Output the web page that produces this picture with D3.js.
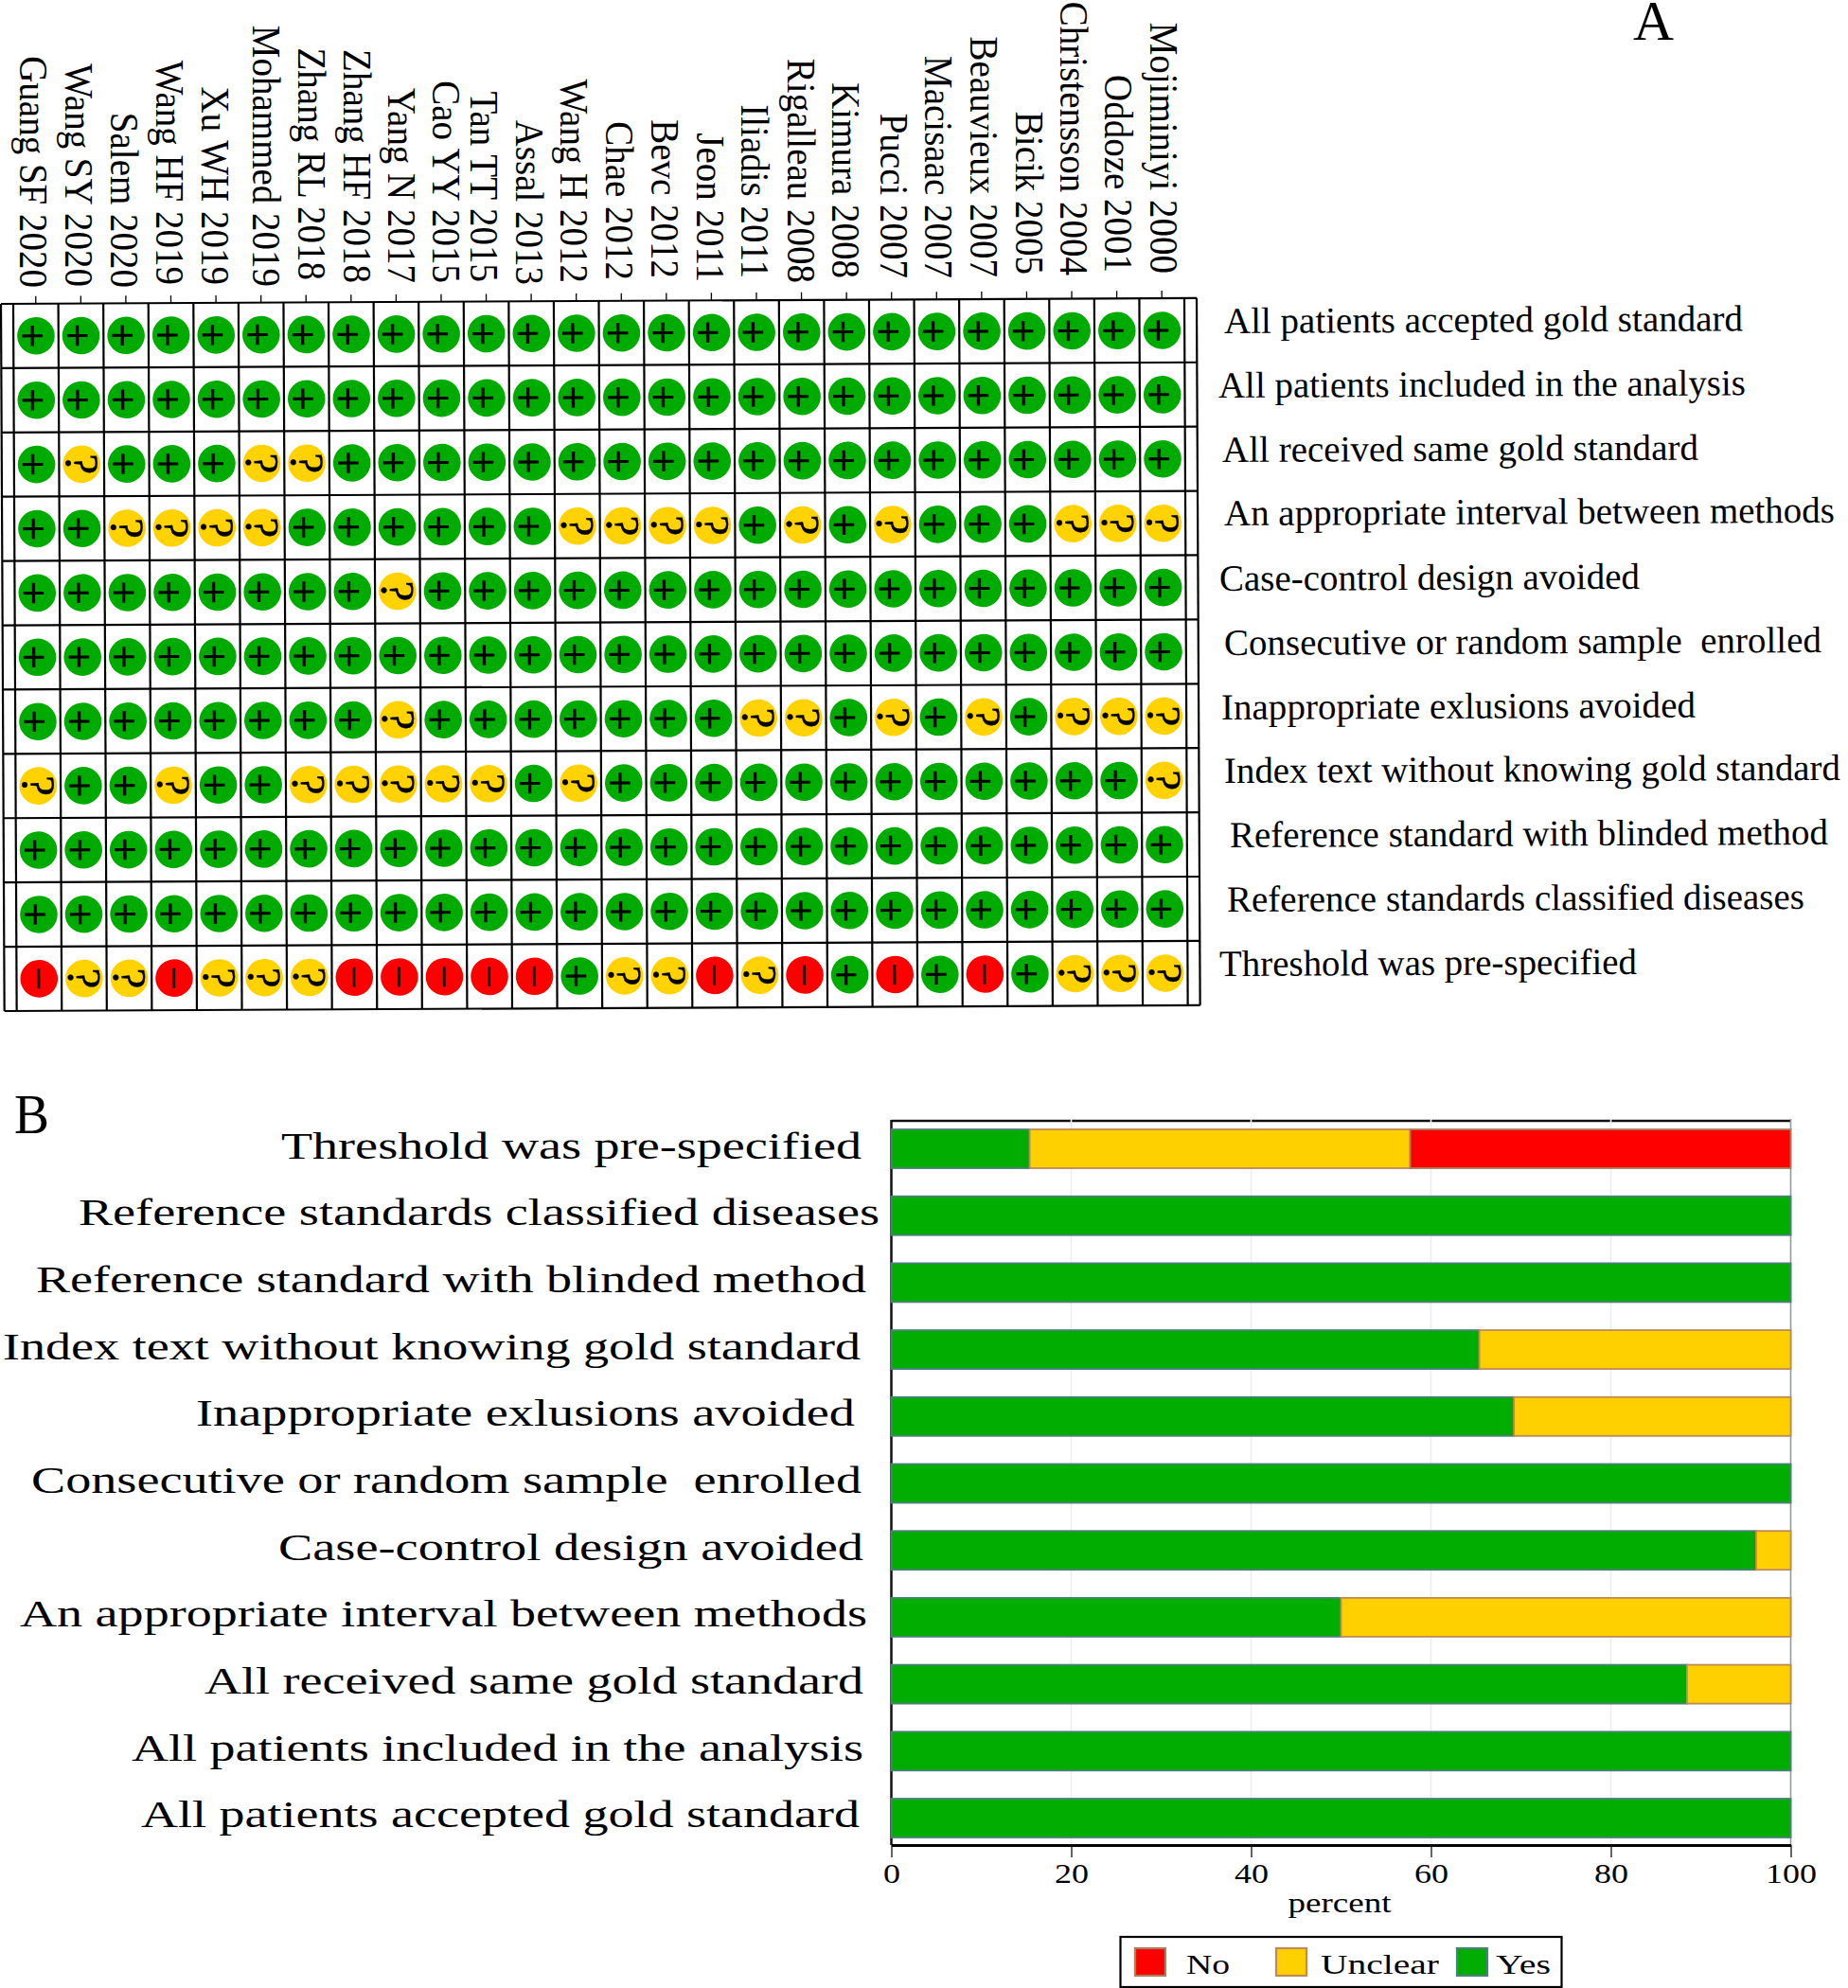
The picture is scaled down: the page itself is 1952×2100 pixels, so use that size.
<!DOCTYPE html>
<html><head><meta charset="utf-8">
<script src="https://cdn.jsdelivr.net/npm/d3@7"></script>
<style>html,body{margin:0;background:#fff}svg{display:block}text{font-family:"Liberation Serif",serif;fill:#000}</style>
</head><body><svg id="c" width="1952" height="2100"></svg>
<script>
const studies = ["Guang SF 2020","Wang SY 2020","Salem 2020","Wang HF 2019","Xu WH 2019","Mohammed 2019","Zhang RL 2018","Zhang HF 2018","Yang N 2017","Cao YY 2015","Tan TT 2015","Assal 2013","Wang H 2012","Chae 2012","Bevc 2012","Jeon 2011","Iliadis 2011","Rigalleau 2008","Kimura 2008","Pucci 2007","Macisaac 2007","Beauvieux 2007","Bicik 2005","Christensson 2004","Oddoze 2001","Mojiminiyi 2000"];
const criteriaA = ["All patients accepted gold standard","All patients included in the analysis","All received same gold standard","An appropriate interval between methods","Case-control design avoided","Consecutive or random sample  enrolled","Inappropriate exlusions avoided","Index text without knowing gold standard","Reference standard with blinded method","Reference standards classified diseases","Threshold was pre-specified"];
const judgments = [
"++++++++++++++++++++++++++",
"++++++++++++++++++++++++++",
"+?+++??+++++++++++++++++++",
"++????++++++????+?+?+++???",
"++++++++?+++++++++++++++++",
"++++++++++++++++++++++++++",
"++++++++?+++++++??+?+?+???",
"?++?++?????+?++++++++++++?",
"++++++++++++++++++++++++++",
"++++++++++++++++++++++++++",
"-??-???-----+??-?-+-+-+???"];
const criteriaB = criteriaA.slice().reverse();
const yesValues     = [15.38,100,100,65.38,69.23,100,96.15,50,88.46,100,100];
const unclearValues = [42.31,0,0,34.62,30.77,0,3.85,50,11.54,0,0];
const noValues      = [42.31,0,0,0,0,0,0,0,0,0,0];
const percentTicks  = [0,20,40,60,80,100];
const legendItems   = ["No","Unclear","Yes"];

// layout tables, separate from the values
const colLabelEnd = [303,302,303,300,300,302,295,298,298,298,297,300,298,295,293,297,293,298,293,293,293,292,289,290,287,288];
const colLabelOff = [16.5,16,16,16,15,8.5,8.5,8,8.7,8.7,16.5,16.6,17,16,15.6,15.5,16,15,15,12,12.6,12,11.8,11.8,12.6,12.5];
const rightLabels = [[1293,1841,352],[1287,1844,420],[1291,1794,488],[1293,1938,555],[1288,1732,624],[1293,1924,692],[1290,1791,760],[1293,1944,827],[1299,1931,895],[1296,1906,963],[1288,1729,1031]];
const leftLabels = [[297,910],[83,929],[38,915],[3,909],[207,903],[33,910],[294,912],[21,916],[216,912],[139,912],[149,908]];

const colors = {"+":"#00AB00","?":"#FFD200","-":"#FF0000"};
const barColors = {Yes:"#00AD00",Unclear:"#FFD000",No:"#FF0000"};
const barEdges  = {Yes:"#4d7f7c",Unclear:"#bf8a55",No:"#a8805c"};
const svg = d3.select("#c");
svg.append("rect").attr("width",1952).attr("height",2100).attr("fill","#fff");

/* Panel A */
const tilt = -0.28;
const grid = svg.append("g").attr("transform",`rotate(${tilt} 1 320)`);
const xA = d3.scaleBand().domain(d3.range(studies.length)).range([14,1251]);
const yA = d3.scaleBand().domain(d3.range(criteriaA.length)).range([321,1068]);
const gl = grid.append("g").attr("stroke","#000").attr("stroke-width",2.2).attr("fill","none");
gl.selectAll("line.h").data(d3.range(criteriaA.length+1)).join("line").attr("class","h")
  .attr("x1",1).attr("x2",1264).attr("y1",i=>321+i*yA.step()).attr("y2",i=>321+i*yA.step());
const vx = [1,...d3.range(studies.length+1).map(i=>14+i*xA.step()),1264];
gl.selectAll("line.v").data(vx).join("line").attr("class","v").attr("x1",d=>d).attr("x2",d=>d).attr("y1",321).attr("y2",1068);
grid.append("g").attr("stroke","#000").attr("stroke-width",1.3).selectAll("line").data(studies).join("line")
  .attr("x1",(d,i)=>xA(i)+xA.bandwidth()/2).attr("x2",(d,i)=>xA(i)+xA.bandwidth()/2).attr("y1",313).attr("y2",321);

const cells = judgments.flatMap((r,ri)=>r.split("").map((v,ci)=>({v,ri,ci})));
const cell = grid.selectAll("g.cell").data(cells).join("g").attr("class","cell")
  .attr("transform",d=>`translate(${xA(d.ci)+xA.bandwidth()/2},${yA(d.ri)+yA.bandwidth()/2})`);
cell.append("circle").attr("r",19.8).attr("fill",d=>colors[d.v]);
const glyph = cell.append("text").attr("transform","rotate(90)").attr("text-anchor","middle");
glyph.filter(d=>d.v==="+").text("+").style("font-family","Liberation Sans").attr("font-size",44).attr("x",0).attr("y",3.5+0.34*44);
glyph.filter(d=>d.v==="?").text("?").attr("font-size",50).attr("x",0).attr("y",0.33*50).style("stroke","#000").style("stroke-width",0.3);
glyph.filter(d=>d.v==="-").text("\u2013").style("font-family","Liberation Sans").attr("font-size",38).attr("x",0).attr("y",0.27*38);

svg.append("g").selectAll("text").data(studies).join("text").text(d=>d)
  .attr("font-size",39).attr("text-anchor","end")
  .attr("transform",(d,i)=>`translate(${xA(i)+xA.bandwidth()/2-colLabelOff[i]},${colLabelEnd[i]+1}) rotate(90) scale(1,1.1)`);

svg.append("g").selectAll("text").data(criteriaA).join("text").text(d=>d)
  .attr("font-size",39).attr("lengthAdjust","spacingAndGlyphs").attr("xml:space","preserve")
  .attr("textLength",(d,i)=>rightLabels[i][1]-rightLabels[i][0])
  .attr("transform",(d,i)=>`translate(${rightLabels[i][0]},${rightLabels[i][2]}) rotate(${tilt})`);

svg.append("text").text("A").attr("x",1725).attr("y",42).attr("font-size",60).attr("textLength",43).attr("lengthAdjust","spacingAndGlyphs");
svg.append("text").text("B").attr("x",15).attr("y",1197).attr("font-size",60).attr("textLength",37).attr("lengthAdjust","spacingAndGlyphs");

/* Panel B */
const xB = d3.scaleLinear().domain([0,100]).range([941.5,1891.5]);
const yB = d3.scaleBand().domain(criteriaB).range([1193,1941]).paddingInner(0.42).paddingOuter(0);
const plotTop = 1184, plotBottom = 1949;
const rows = criteriaB.map((c,i)=>({c,Yes:yesValues[i],Unclear:unclearValues[i],No:noValues[i]}));
const stack = d3.stack().keys(["Yes","Unclear","No"])(rows);

svg.append("line").attr("x1",xB(0)).attr("x2",xB(100)).attr("y1",plotTop).attr("y2",plotTop).attr("stroke","#111").attr("stroke-width",2.5);
svg.append("g").selectAll("line").data(percentTicks.slice(1)).join("line")
  .attr("x1",d=>xB(d)).attr("x2",d=>xB(d)).attr("y1",plotTop-2).attr("y2",plotBottom)
  .attr("stroke",d=>d===100?"#8e9ca2":"#e7eff0").attr("stroke-width",1.6);
svg.append("line").attr("x1",xB(0)).attr("x2",xB(0)).attr("y1",plotTop-1).attr("y2",plotBottom).attr("stroke","#111").attr("stroke-width",2.5);

svg.append("g").selectAll("g").data(stack).join("g").each(function(s){
  d3.select(this).selectAll("rect").data(s.filter(d=>d[1]>d[0])).join("rect")
    .attr("x",d=>xB(d[0])).attr("width",d=>xB(d[1])-xB(d[0]))
    .attr("y",d=>yB(d.data.c)).attr("height",yB.bandwidth())
    .attr("fill",barColors[s.key]).attr("stroke",barEdges[s.key]).attr("stroke-width",1.8);
});

const axis = svg.append("g").attr("transform",`translate(0,${plotBottom})`)
  .call(d3.axisBottom(xB).tickValues(percentTicks).tickSize(13).tickPadding(6).tickSizeOuter(0));
axis.select(".domain").attr("stroke","#000").attr("stroke-width",3.2);
axis.selectAll(".tick line").attr("stroke","#111").attr("stroke-width",1.3);
axis.selectAll("text").attr("font-size",29).style("font-family","Liberation Serif").attr("fill","#000")
  .attr("lengthAdjust","spacingAndGlyphs").attr("textLength",d=>String(d).length*18);

svg.append("text").text("percent").attr("x",1415).attr("y",2020).attr("text-anchor","middle")
  .attr("font-size",29).attr("textLength",109).attr("lengthAdjust","spacingAndGlyphs");

svg.append("g").selectAll("text").data(criteriaB).join("text").text(d=>d)
  .attr("font-size",40).attr("lengthAdjust","spacingAndGlyphs").attr("xml:space","preserve")
  .attr("x",(d,i)=>leftLabels[i][0]).attr("textLength",(d,i)=>leftLabels[i][1]-leftLabels[i][0])
  .attr("y",d=>yB(d)+30.5);

/* Legend */
const legendX = {No:[1199,1253,46],Unclear:[1348,1395,125],Yes:[1539,1580,58]};
svg.append("rect").attr("x",1183.5).attr("y",2046).attr("width",466).attr("height",53).attr("fill","#fff").attr("stroke","#000").attr("stroke-width",2.2);
const lg = svg.append("g").selectAll("g").data(legendItems).join("g");
lg.append("rect").attr("x",d=>legendX[d][0]).attr("y",2058).attr("width",32).attr("height",29)
  .attr("fill",d=>barColors[d]).attr("stroke",d=>barEdges[d]).attr("stroke-width",2.2);
lg.append("text").text(d=>d).attr("x",d=>legendX[d][1]).attr("y",2085).attr("font-size",29)
  .attr("textLength",d=>legendX[d][2]).attr("lengthAdjust","spacingAndGlyphs");
</script></body></html>
